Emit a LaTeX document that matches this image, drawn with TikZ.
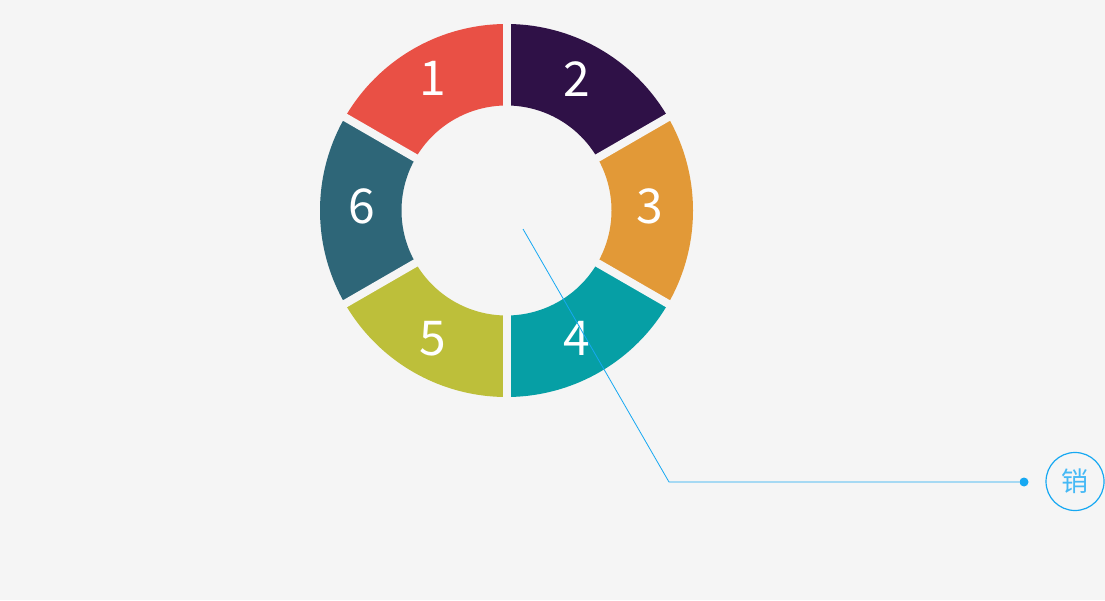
\documentclass[tikz,border=0pt]{standalone}
\usepackage{fontspec}
\setmainfont{Noto Sans CJK SC}
\usetikzlibrary{positioning}

\definecolor{bg}{HTML}{F5F5F5}
\definecolor{segone}{HTML}{E95045}
\definecolor{segtwo}{HTML}{2F1147}
\definecolor{segthree}{HTML}{E29937}
\definecolor{segfour}{HTML}{069FA5}
\definecolor{segfive}{HTML}{BDBF3A}
\definecolor{segsix}{HTML}{2E6678}
\definecolor{leadblue}{HTML}{16A8F2}

\begin{document}
\begin{tikzpicture}[x=1pt, y=1pt,
  number/.style={text=white, inner sep=0pt, font=\fontsize{48}{48}\selectfont},
  gap/.style={draw=bg, line width=8pt},
  leader/.style={draw=leadblue, line width=0.8pt},
  dot/.style={circle, fill=leadblue, inner sep=0pt, minimum size=9pt},
  ring/.style={circle, draw=leadblue, line width=1.2pt, minimum size=58pt, inner sep=0pt, text=leadblue!80!white, font=\fontsize{27}{27}\selectfont}]

  \fill[bg] (0,0) rectangle (1105,600);
  \coordinate (centre) at (506.5,389.5);

  % ring segments
  \foreach \s/\col/\n/\px/\py [evaluate=\s as \e using \s+60] in
      {90/segone/1/433/521.5, 30/segtwo/2/577/521, -30/segthree/3/650/393.5,
       -90/segfour/4/577/261.5, 210/segfive/5/433/261.5, 150/segsix/6/362/393.5} {
    \fill[\col] ([shift={(\s:186.5)}]centre) arc[start angle=\s, end angle=\e, radius=186.5]
      -- ([shift={(\e:105)}]centre) arc[start angle=\e, end angle=\s, radius=105] -- cycle;
    \node[number] (num\n) at (\px,\py) {\n};
  }
  \foreach \g in {90,30,-30}
    \draw[gap] ([shift={(\g:192)}]centre) -- ([shift={(\g+180:192)}]centre);

  % callout
  \coordinate (start) at (523,371);
  \coordinate (bend) at (669,118);
  \node[dot] (tip) at (1024,118) {};
  \node[ring] (xiao) at (1075,118.5) {销};
  \draw[leader] (start) -- (bend) -- (tip);
\end{tikzpicture}
\end{document}
